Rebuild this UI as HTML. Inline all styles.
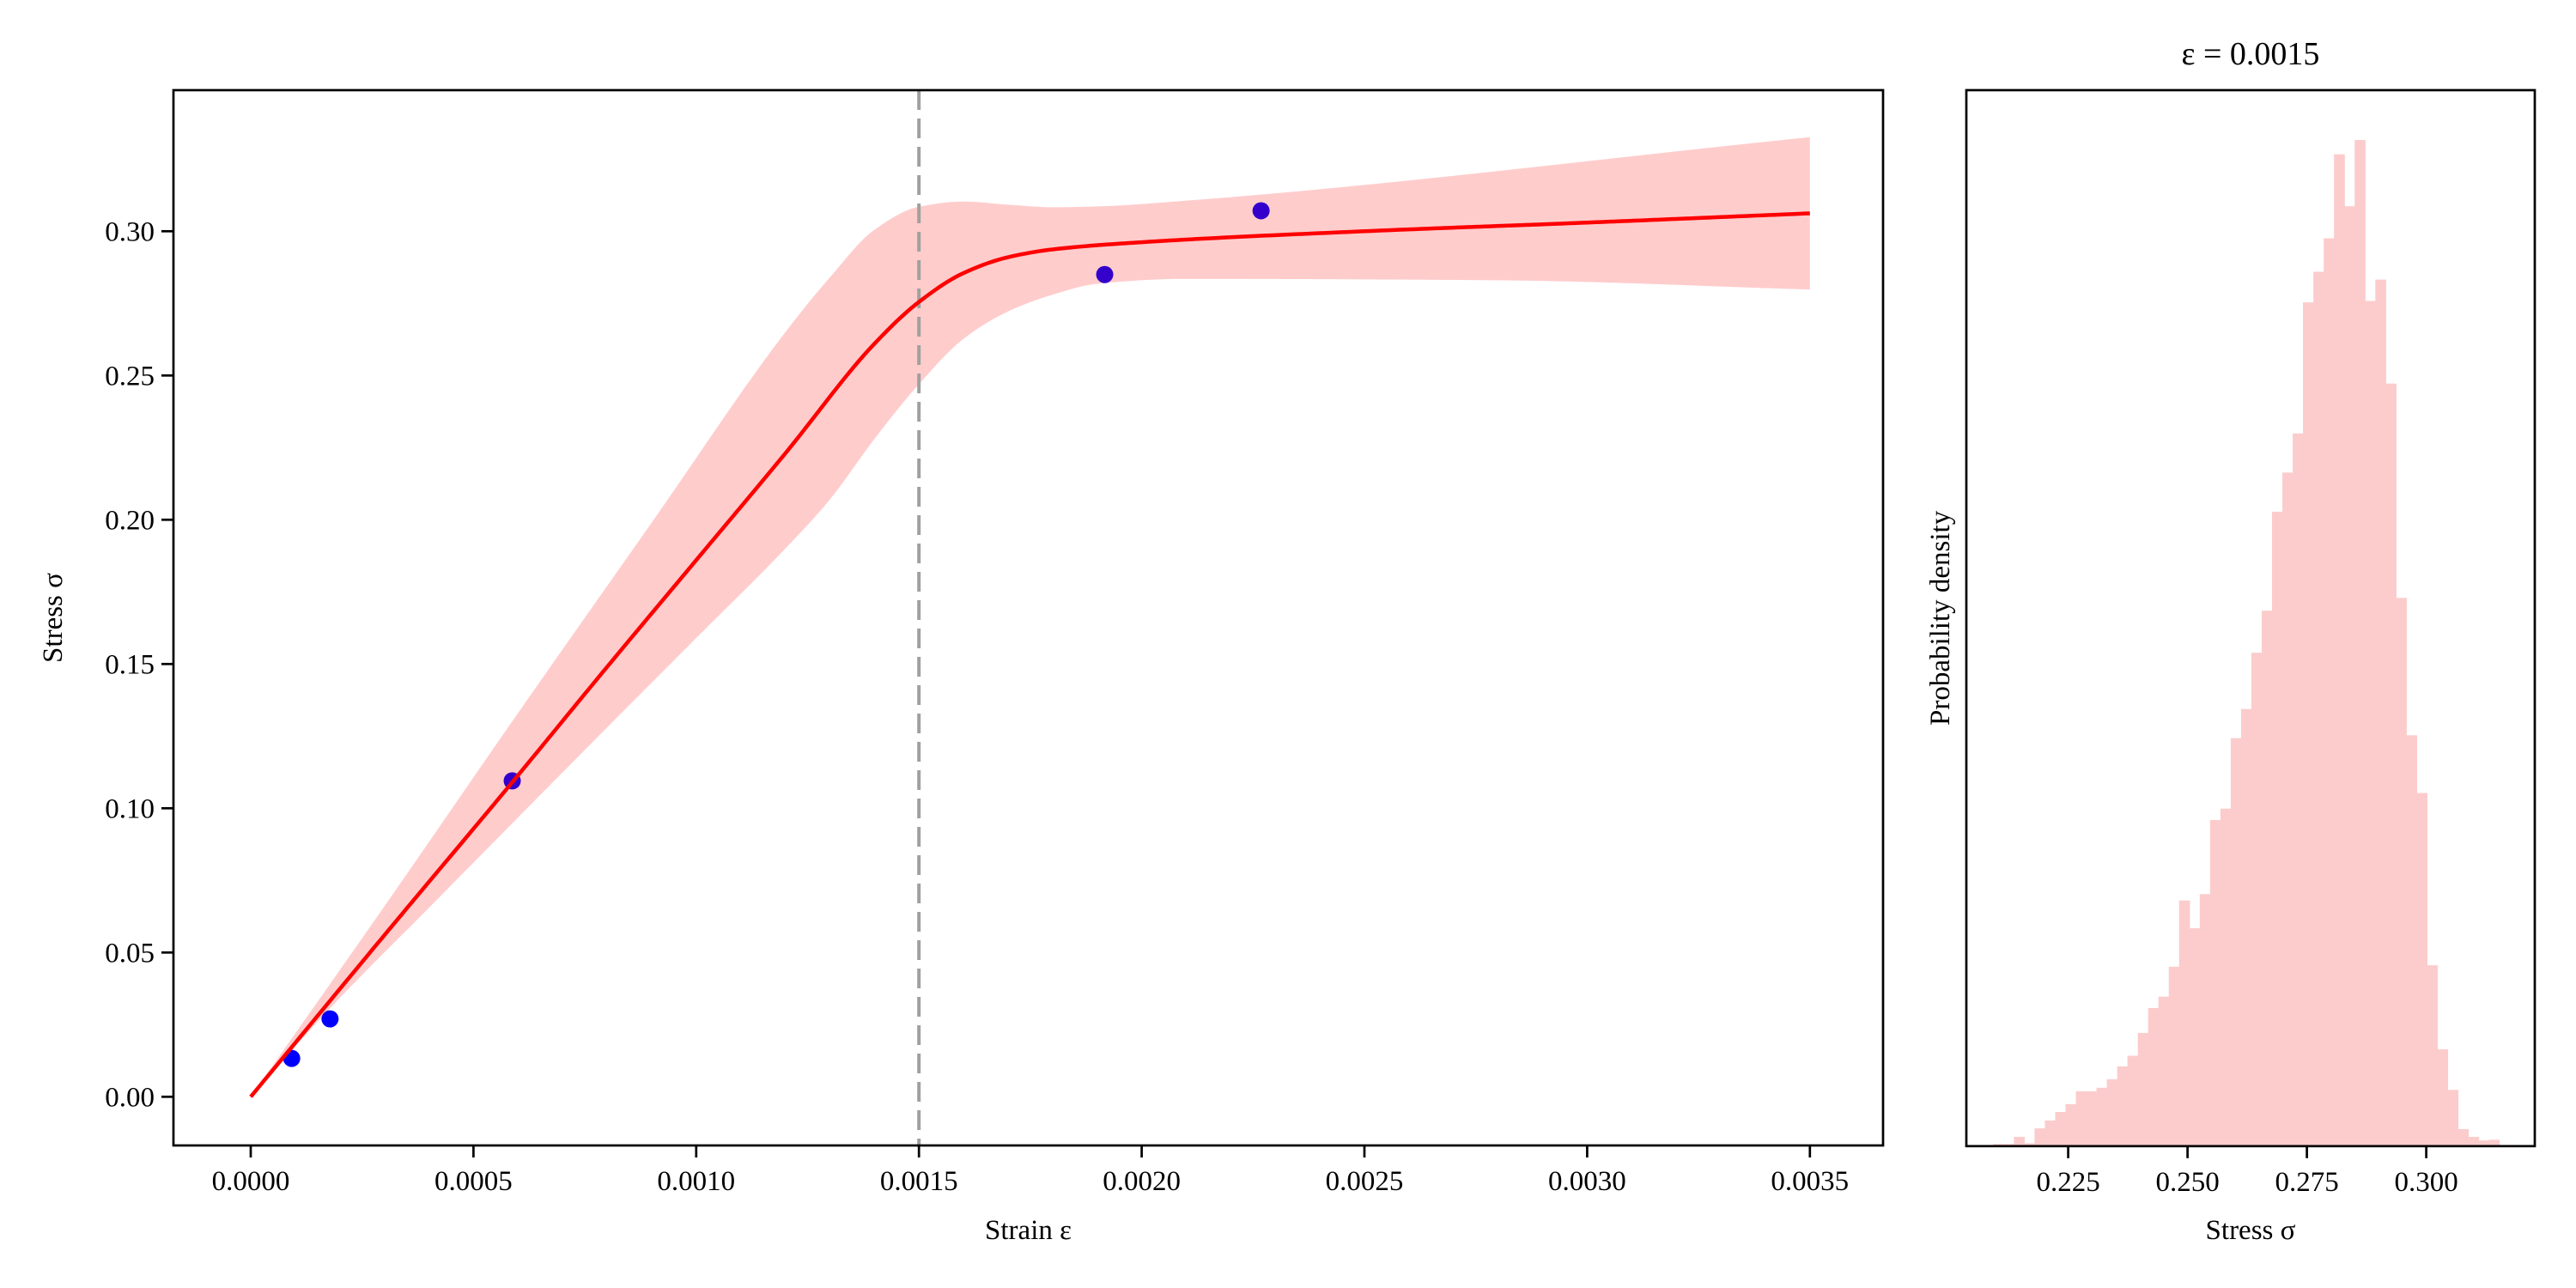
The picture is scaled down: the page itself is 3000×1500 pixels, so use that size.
<!DOCTYPE html>
<html><head><meta charset="utf-8"><style>
html,body{margin:0;padding:0;background:#fff;}
svg{display:block;font-family:"Liberation Serif","DejaVu Serif",serif;}
</style></head><body>
<svg id="fig" width="3000" height="1500" viewBox="0 0 3000 1500" xmlns="http://www.w3.org/2000/svg">
<rect width="3000" height="1500" fill="#fff"/>
<g id="main"></g>
<g id="hist"></g>
</svg>
<script>
// ---- Main chart data ----
const curveStrain = [0, 0.0003, 0.000587, 0.0008, 0.001, 0.0012, 0.0014, 0.0015, 0.0016, 0.0017, 0.0018, 0.002, 0.0025, 0.003, 0.0035];
const curveStress = [0, 0.056, 0.109, 0.149, 0.186, 0.223, 0.261, 0.2755, 0.2855, 0.291, 0.2937, 0.2962, 0.3, 0.303, 0.3062];
const upperStrain = [0, 0.0003, 0.0006, 0.0009, 0.0012, 0.0013, 0.0014, 0.0015, 0.0016, 0.0017, 0.0018, 0.0019, 0.0021, 0.0035];
const upperStress = [0, 0.066, 0.133, 0.199, 0.265, 0.284, 0.3005, 0.3085, 0.3103, 0.3092, 0.3083, 0.3086, 0.3106, 0.3326];
const lowerStrain = [0, 0.000183, 0.0004, 0.0008, 0.001, 0.0012, 0.0013, 0.0014, 0.0015, 0.0016, 0.0017, 0.0018, 0.0019, 0.0021, 0.0028, 0.0035];
const lowerStress = [0, 0.0315, 0.0655, 0.128, 0.159, 0.19, 0.207, 0.228, 0.247, 0.2627, 0.2722, 0.278, 0.2818, 0.2835, 0.283, 0.2798];
const obsStrain = [0.0000919, 0.000178, 0.000587, 0.001917, 0.002268];
const obsStress = [0.0133, 0.027, 0.1095, 0.285, 0.3071];
const vlineStrain = 0.0015;
const xTicks = [0, 0.0005, 0.001, 0.0015, 0.002, 0.0025, 0.003, 0.0035];
const xTickLabels = ["0.0000","0.0005","0.0010","0.0015","0.0020","0.0025","0.0030","0.0035"];
const yTicks = [0, 0.05, 0.1, 0.15, 0.2, 0.25, 0.3];
const yTickLabels = ["0.00","0.05","0.10","0.15","0.20","0.25","0.30"];
// ---- Histogram data ----
const binStart = 0.2093;
const binWidth = 0.002163;
const binCounts = [3,3,13,4,25,36,48,59,77,77,82,94,112,127,159,194,210,252,345,306,354,458,474,573,614,693,752,891,946,1001,1185,1228,1275,1393,1320,1413,1187,1217,1071,770,577,496,254,136,79,24,13,8,9];
const histYMax = 1483;
const hTicks = [0.225, 0.25, 0.275, 0.3];
const hTickLabels = ["0.225","0.250","0.275","0.300"];

const NS = "http://www.w3.org/2000/svg";
function mk(tag, attrs, parent){const e=document.createElementNS(NS,tag);for(const k in attrs)e.setAttribute(k,attrs[k]);parent.appendChild(e);return e;}

const L=202,R=2193,T=105,B=1334;
const xS = e => 292 + e*518800;
const yS = s => 1277.3 - s*3360;
const main=document.getElementById('main');

function monoPts(xs,ys){
  const n=xs.length,dl=[],m=new Array(n);
  for(let i=0;i<n-1;i++)dl.push((ys[i+1]-ys[i])/(xs[i+1]-xs[i]));
  m[0]=dl[0];m[n-1]=dl[n-2];
  for(let i=1;i<n-1;i++){if(dl[i-1]*dl[i]<=0)m[i]=0;else{const w1=2*(xs[i+1]-xs[i])+(xs[i]-xs[i-1]),w2=(xs[i+1]-xs[i])+2*(xs[i]-xs[i-1]);m[i]=(w1+w2)/(w1/dl[i-1]+w2/dl[i]);}}
  const pts=[];
  for(let i=0;i<n-1;i++){const h=xs[i+1]-xs[i];const steps=Math.max(4,Math.ceil(h/0.00001));
    for(let k=0;k<steps;k++){const t=k/steps,t2=t*t,t3=t2*t;
      const y=(2*t3-3*t2+1)*ys[i]+(t3-2*t2+t)*h*m[i]+(-2*t3+3*t2)*ys[i+1]+(t3-t2)*h*m[i+1];
      pts.push([xS(xs[i]+t*h),yS(y)]);}}
  pts.push([xS(xs[n-1]),yS(ys[n-1])]);
  return pts;}
const ptsToD=p=>p.map((q,i)=>(i?'L':'M')+q[0].toFixed(2)+','+q[1].toFixed(2)).join('');

obsStrain.forEach((e,i)=>{
  const c=mk('circle',{cx:xS(e),cy:yS(obsStress[i]),r:10,fill:'#0000ff'},main);
  
  
});
const up=monoPts(upperStrain,upperStress), lo=monoPts(lowerStrain,lowerStress).reverse();
const band=mk('path',{d:ptsToD(up.concat(lo))+'Z',fill:'rgba(255,0,0,0.2)',stroke:'none'},main);


const vl=mk('line',{x1:xS(vlineStrain),x2:xS(vlineStrain),y1:T,y2:B,stroke:'#a0a0a0','stroke-width':4,'stroke-dasharray':'23,10'},main);


const cv=mk('path',{d:ptsToD(monoPts(curveStrain,curveStress)),fill:'none',stroke:'#ff0000','stroke-width':4.5,'stroke-linejoin':'round'},main);


const fr=mk('rect',{x:L,y:T,width:R-L,height:B-T,fill:'none',stroke:'#000','stroke-width':2.7},main);


xTicks.forEach((t,i)=>{
  mk('line',{x1:xS(t),x2:xS(t),y1:B,y2:B+14,stroke:'#000','stroke-width':2.7},main);
  const tx=mk('text',{x:xS(t),y:B+52,'font-size':33,'text-anchor':'middle'},main);
  tx.textContent=xTickLabels[i];
  
  
});
yTicks.forEach((t,i)=>{
  mk('line',{x1:L-14,x2:L,y1:yS(t),y2:yS(t),stroke:'#000','stroke-width':2.7},main);
  const tx=mk('text',{x:L-22,y:yS(t)+11,'font-size':33,'text-anchor':'end'},main);
  tx.textContent=yTickLabels[i];
  
  
});
let xl=mk('text',{x:(L+R)/2,y:1443,'font-size':33,'text-anchor':'middle'},main);
xl.textContent='Strain ε';


let yl=mk('text',{x:0,y:0,'font-size':33,'text-anchor':'middle',transform:'translate(72,'+((T+B)/2)+') rotate(-90)'},main);
yl.textContent='Stress σ';



const HL=2290,HR=2952,HT=105,HB=1334.8;
const hx = v => 2408.6 + (v-0.225)*5560;
const hy = c => HB - c/histYMax*(HB-HT);
const hist=document.getElementById('hist');
binCounts.forEach((c,i)=>{
  const x0=hx(binStart+i*binWidth),x1=hx(binStart+(i+1)*binWidth);
  const r=mk('rect',{x:x0,y:hy(c),width:x1-x0+0.6,height:HB-hy(c),fill:'#fccccc'},hist);
  
  
});
const hf=mk('rect',{x:HL,y:HT,width:HR-HL,height:HB-HT,fill:'none',stroke:'#000','stroke-width':2.7},hist);


hTicks.forEach((t,i)=>{
  mk('line',{x1:hx(t),x2:hx(t),y1:HB,y2:HB+14,stroke:'#000','stroke-width':2.7},hist);
  const tx=mk('text',{x:hx(t),y:HB+52,'font-size':33,'text-anchor':'middle'},hist);
  tx.textContent=hTickLabels[i];
  
  
});
let hxl=mk('text',{x:(HL+HR)/2,y:1443,'font-size':33,'text-anchor':'middle'},hist);
hxl.textContent='Stress σ';


let hyl=mk('text',{x:0,y:0,'font-size':33,'text-anchor':'middle',transform:'translate(2270,'+((HT+HB)/2)+') rotate(-90)'},hist);
hyl.textContent='Probability density';


let ht=mk('text',{x:(HL+HR)/2,y:75,'font-size':38,'text-anchor':'middle'},hist);
ht.textContent='ε = 0.0015';


</script>
</body></html>
